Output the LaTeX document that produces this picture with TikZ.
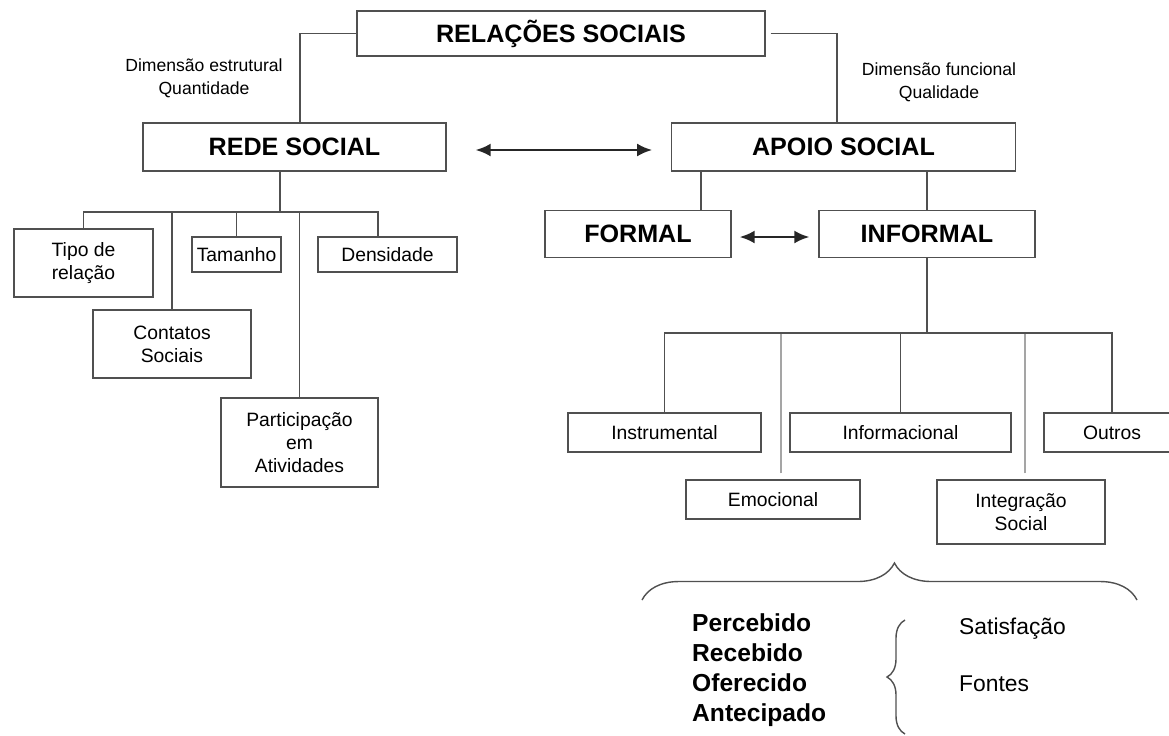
\documentclass[tikz,border=0pt]{standalone}
\usepackage{fontspec}
\setmainfont{Liberation Sans}
\usetikzlibrary{arrows.meta}
\usetikzlibrary{calc}
\usetikzlibrary{decorations.pathreplacing}
\tikzset{>=latex}
\definecolor{boxgray}{RGB}{80,80,80}
\definecolor{palegray}{RGB}{165,165,165}
\tikzstyle{titlebox}=[draw=boxgray,line width=0.8pt,inner sep=0pt,font=\fontsize{14.3}{16}\selectfont\bfseries]
\tikzstyle{itembox}=[draw=boxgray,line width=0.7pt,inner sep=0pt,align=center,font=\fontsize{11}{13}\selectfont]
\tikzstyle{dimlabel}=[align=center,font=\fontsize{10}{13}\selectfont]
\tikzstyle{treeline}=[draw=boxgray,line width=0.8pt]
\tikzstyle{paleline}=[draw=palegray,line width=0.8pt]
\tikzstyle{dblarrow}=[{Latex[length=3mm,width=2.6mm]}-{Latex[length=3mm,width=2.6mm]},line width=1.3pt,draw=black!85]
\tikzstyle{bracestyle}=[draw=boxgray,line width=0.8pt,decorate]

\begin{document}
\begin{tikzpicture}[x=0.02cm,y=-0.02cm]
  \useasboundingbox (0,0) rectangle (1169,735);

  % top level
  \node[titlebox,minimum width=8.16cm,minimum height=0.9cm] (rel) at (561,33.5) {RELAÇÕES SOCIAIS};
  \node[titlebox,minimum width=6.06cm,minimum height=0.96cm] (rede) at (294.5,147) {REDE SOCIAL};
  \node[titlebox,minimum width=6.87cm,minimum height=0.96cm] (apoio) at (843.5,147) {APOIO SOCIAL};
  \node[dimlabel] (dimest) at (204,78) {Dimensão estrutural\\Quantidade};
  \node[dimlabel] (dimfun) at (939,82) {Dimensão funcional\\Qualidade};

  \draw[treeline] (rel.west) -| ([xshift=0.11cm]rede.north);
  \draw[treeline] ([xshift=0.1cm]rel.east) -| ([xshift=-0.13cm]apoio.north);
  \draw[dblarrow] ([xshift=0.58cm,yshift=-0.06cm]rede.east) -- ([xshift=-0.38cm,yshift=-0.06cm]apoio.west);

  % rede social
  \node[itembox,minimum width=2.78cm,minimum height=1.36cm] (tipo) at (83.5,263) {Tipo de\\relação};
  \node[itembox,minimum width=1.78cm,minimum height=0.7cm] (tamanho) at (236.5,254.5) {Tamanho};
  \node[itembox,minimum width=2.78cm,minimum height=0.7cm] (densidade) at (387.5,254.5) {Densidade};
  \node[itembox,minimum width=3.16cm,minimum height=1.36cm] (contatos) at (172,344) {Contatos\\Sociais};
  \node[itembox,minimum width=3.14cm,minimum height=1.78cm] (participacao) at (299.5,442.5) {Participação\\em\\Atividades};

  \coordinate (busL) at (280,212);
  \draw[treeline] (busL |- rede.south) -- (busL);
  \foreach \n in {tipo,contatos,tamanho,participacao}
    \draw[treeline] (\n.north) |- (busL);
  \draw[treeline] ([xshift=-0.19cm]densidade.north) |- (busL);

  % apoio social
  \node[titlebox,minimum width=3.72cm,minimum height=0.94cm] (formal) at (638,234) {FORMAL};
  \node[titlebox,minimum width=4.32cm,minimum height=0.94cm] (informal) at (927,234) {INFORMAL};
  \draw[treeline] ([xshift=1.26cm]formal.north) -- ([xshift=1.26cm]formal.north |- apoio.south);
  \draw[treeline] (informal.north) -- (informal.north |- apoio.south);
  \draw[dblarrow] ([xshift=0.16cm,yshift=-0.06cm]formal.east) -- ([xshift=-0.18cm,yshift=-0.06cm]informal.west);

  \node[itembox,minimum width=3.86cm,minimum height=0.78cm] (instrumental) at (664.5,432.5) {Instrumental};
  \node[itembox,minimum width=4.42cm,minimum height=0.78cm] (informacional) at (900.5,432.5) {Informacional};
  \node[itembox,minimum width=2.72cm,minimum height=0.78cm] (outros) at (1112,432.5) {Outros};
  \node[itembox,minimum width=3.48cm,minimum height=0.78cm] (emocional) at (773,499.5) {Emocional};
  \node[itembox,minimum width=3.36cm,minimum height=1.28cm] (integracao) at (1021,512) {Integração\\Social};

  \coordinate (busR) at (927,333);
  \draw[treeline] (informal.south) -- (busR);
  \coordinate (emotop) at ([shift={(0.16cm,0.12cm)}]emocional.north);
  \coordinate (inttop) at ([shift={(0.08cm,0.12cm)}]integracao.north);
  \draw[paleline] (emotop) -- (emotop |- busR);
  \draw[paleline] (inttop) -- (inttop |- busR);
  \foreach \n in {instrumental,informacional,outros}
    \draw[treeline] (\n.north) |- (busR);

  % braces and lists
  \draw[bracestyle,decoration={brace,amplitude=0.74cm,aspect=0.51}] (642,600) -- (1137,600);
  \node[anchor=west,align=left,font=\fontsize{14}{17}\selectfont\bfseries] (modos) at (686,670) {Percebido\\Recebido\\Oferecido\\Antecipado};
  \draw[bracestyle,decoration={brace,amplitude=0.36cm}] (905,734) -- (905,620);
  \node[anchor=west,font=\fontsize{13}{15}\selectfont] (satisf) at (953,629) {Satisfação};
  \node[anchor=west,font=\fontsize{13}{15}\selectfont] (fontes) at (953,684) {Fontes};
\end{tikzpicture}
\end{document}
